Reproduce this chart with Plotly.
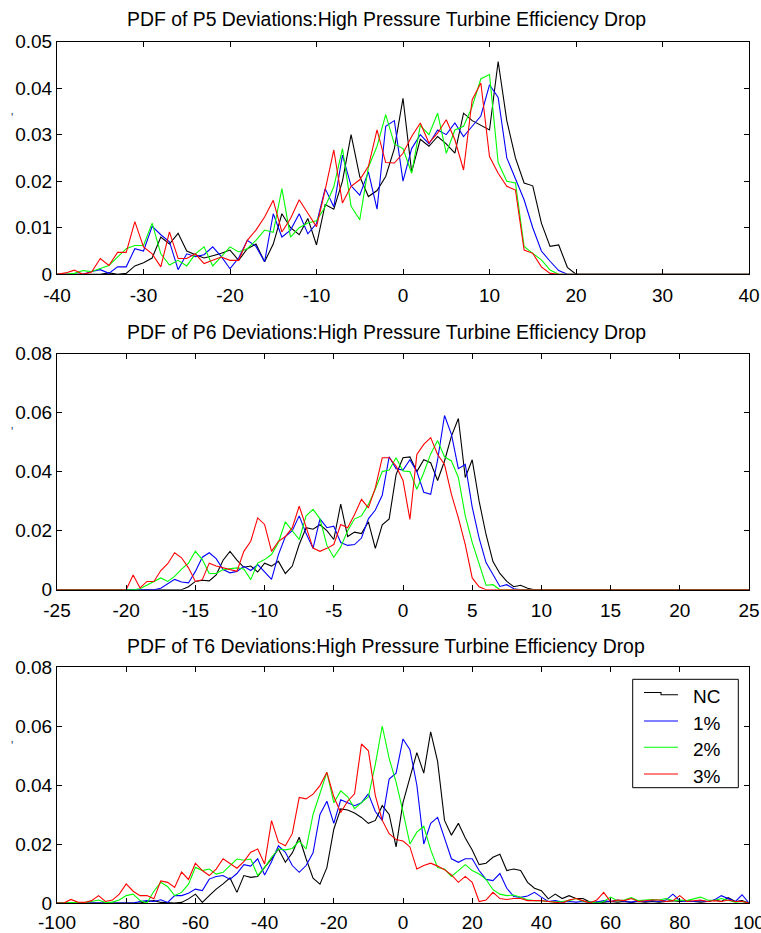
import plotly.graph_objects as go

# ---------------- data ----------------
# P5 deviation bins (1-unit bins)
P5_X = list(range(-40, 41))
P5_NC = [0, 0, 0, 0, 0, 0,
         0.0003, 0, 0.0002, 0.0018, 0.0025, 0.0035, 0.0080, 0.0065, 0.0088, 0.0050,
         0.0042, 0.0035, 0.0040, 0.0045, 0.0052, 0.0030, 0.0055, 0.0065, 0.0027, 0.0065,
         0.0130, 0.0100, 0.0085, 0.0120, 0.0063, 0.0150, 0.0140, 0.0200, 0.0300, 0.0210,
         0.0167, 0.0180, 0.0210, 0.0270, 0.0378, 0.0220, 0.0290, 0.0275, 0.0296, 0.0280,
         0.0260, 0.0346, 0.0330, 0.0320, 0.0310, 0.0457, 0.0330, 0.0250, 0.0196, 0.0190,
         0.0110, 0.0060, 0.0063, 0.0015, 0,
         0, 0, 0, 0, 0, 0, 0, 0, 0, 0, 0, 0, 0, 0, 0, 0, 0, 0, 0, 0]
P5_1 = [0, 0, 0, 0, 0.0006, 0.0010,
        0.0002, 0.0016, 0.0016, 0.0055, 0.0050, 0.0103, 0.0085, 0.0070, 0.0010, 0.0044,
        0.0038, 0.0042, 0.0059, 0.0038, 0.0012, 0.0035, 0.0073, 0.0060, 0.0027, 0.0130,
        0.0080, 0.0095, 0.0130, 0.0087, 0.0109, 0.0184, 0.0145, 0.0256, 0.0190, 0.0170,
        0.0220, 0.0140, 0.0318, 0.0330, 0.0200, 0.0270, 0.0300, 0.0280, 0.0310, 0.0300,
        0.0325, 0.0296, 0.0318, 0.0340, 0.0407, 0.0380, 0.0250, 0.0203, 0.0160, 0.0100,
        0.0050, 0.0028, 0.0008, 0, 0,
        0, 0, 0, 0, 0, 0, 0, 0, 0, 0, 0, 0, 0, 0, 0, 0, 0, 0, 0, 0]
P5_2 = [0, 0, 0.0002, 0.0008, 0.0006, 0.0012,
        0.0019, 0.0037, 0.0055, 0.0062, 0.0062, 0.0110, 0.0044, 0.0020, 0.0030, 0.0018,
        0.0044, 0.0059, 0.0018, 0.0038, 0.0059, 0.0048, 0.0055, 0.0073, 0.0095, 0.0090,
        0.0184, 0.0080, 0.0100, 0.0110, 0.0115, 0.0145, 0.0188, 0.0270, 0.0146, 0.0117,
        0.0230, 0.0275, 0.0343, 0.0280, 0.0270, 0.0217, 0.0320, 0.0300, 0.0346, 0.0260,
        0.0310, 0.0318, 0.0360, 0.0420, 0.0429, 0.0240, 0.0200, 0.0196, 0.0060, 0.0045,
        0.0031, 0.0009, 0, 0, 0,
        0, 0, 0, 0, 0, 0, 0, 0, 0, 0, 0, 0, 0, 0, 0, 0, 0, 0, 0, 0]
P5_3 = [0, 0.0003, 0.0009, 0, 0.0005, 0.0034,
        0.0019, 0.0047, 0.0047, 0.0113, 0.0059, 0.0044, 0.0016, 0.0091, 0.0034, 0.0034,
        0.0044, 0.0023, 0.0030, 0.0037, 0.0030, 0.0030, 0.0073, 0.0095, 0.0123, 0.0159,
        0.0091, 0.0120, 0.0160, 0.0131, 0.0102, 0.0181, 0.0267, 0.0153, 0.0189, 0.0203,
        0.0232, 0.0310, 0.0240, 0.0239, 0.0260, 0.0296, 0.0325, 0.0282, 0.0303, 0.0332,
        0.0289, 0.0224, 0.0375, 0.0411, 0.0253, 0.0217, 0.0189, 0.0181, 0.0052, 0.0045,
        0.0016, 0.0002, 0, 0, 0,
        0, 0, 0, 0, 0, 0, 0, 0, 0, 0, 0, 0, 0, 0, 0, 0, 0, 0, 0, 0]

# P6 deviation bins (0.5-unit bins)
P6_X = [i * 0.5 for i in range(-50, 51)]
P6_NC = [0, 0, 0, 0, 0, 0, 0, 0, 0, 0, 0, 0, 0, 0, 0, 0, 0, 0, 0,
         0.0010, 0.0028, 0.0032, 0.0030, 0.0050, 0.0100, 0.0130, 0.0100, 0.0076, 0.0080,
         0.0060, 0.0090, 0.0080, 0.0096, 0.0055, 0.0080, 0.0153, 0.0210, 0.0205, 0.0220,
         0.0200, 0.0170, 0.0290, 0.0180, 0.0195, 0.0190, 0.0230, 0.0140, 0.0220, 0.0240,
         0.0390, 0.0447, 0.0450, 0.0400, 0.0440, 0.0430, 0.0370, 0.0436, 0.0520, 0.0580,
         0.0380, 0.0440, 0.0300, 0.0187, 0.0095, 0.0055, 0.0028, 0.0010, 0.0015, 0.0005,
         0, 0, 0, 0, 0, 0, 0, 0, 0, 0, 0, 0, 0, 0, 0, 0,
         0, 0, 0, 0, 0, 0, 0, 0, 0, 0, 0, 0, 0, 0, 0, 0]
P6_1 = [0, 0, 0, 0, 0, 0, 0, 0, 0, 0, 0, 0, 0, 0, 0,
        0.0005, 0.0020, 0.0035, 0.0026, 0.0023, 0.0062, 0.0110, 0.0125, 0.0105, 0.0068,
        0.0057, 0.0062, 0.0079, 0.0065, 0.0085, 0.0060, 0.0035, 0.0119, 0.0180, 0.0200,
        0.0250, 0.0190, 0.0140, 0.0240, 0.0210, 0.0215, 0.0160, 0.0150, 0.0153, 0.0175,
        0.0240, 0.0270, 0.0320, 0.0450, 0.0410, 0.0405, 0.0440, 0.0400, 0.0330, 0.0323,
        0.0440, 0.0590, 0.0526, 0.0410, 0.0424, 0.0280, 0.0175, 0.0092, 0.0050, 0.0011,
        0.0017, 0.0003,
        0, 0, 0, 0, 0, 0, 0, 0, 0, 0, 0, 0, 0, 0, 0, 0, 0,
        0, 0, 0, 0, 0, 0, 0, 0, 0, 0, 0, 0, 0, 0, 0, 0, 0]
P6_2 = [0, 0, 0, 0, 0, 0, 0, 0, 0, 0, 0, 0,
        0.0003, 0.0015, 0.0028, 0.0040, 0.0028, 0.0045, 0.0070, 0.0090, 0.0130, 0.0102,
        0.0055, 0.0055, 0.0068, 0.0072, 0.0074, 0.0070, 0.0034, 0.0090, 0.0102, 0.0119,
        0.0160, 0.0230, 0.0200, 0.0170, 0.0250, 0.0272, 0.0240, 0.0150, 0.0110, 0.0145,
        0.0200, 0.0240, 0.0250, 0.0289, 0.0340, 0.0400, 0.0405, 0.0447, 0.0402, 0.0400,
        0.0340, 0.0396, 0.0460, 0.0505, 0.0450, 0.0436, 0.0380, 0.0250, 0.0160, 0.0085,
        0.0015, 0.0017, 0,
        0, 0, 0, 0, 0, 0, 0, 0, 0, 0, 0, 0, 0, 0, 0, 0, 0, 0,
        0, 0, 0, 0, 0, 0, 0, 0, 0, 0, 0, 0, 0, 0, 0, 0, 0, 0]
P6_3 = [0, 0, 0, 0, 0, 0, 0, 0, 0, 0, 0,
        0.0050, 0.0006, 0.0028, 0.0028, 0.0065, 0.0088, 0.0125, 0.0108, 0.0074, 0.0028,
        0.0034, 0.0090, 0.0080, 0.0074, 0.0068, 0.0062, 0.0130, 0.0164, 0.0243, 0.0221,
        0.0130, 0.0164, 0.0180, 0.0210, 0.0283, 0.0210, 0.0141, 0.0130, 0.0140, 0.0153,
        0.0221, 0.0210, 0.0255, 0.0306, 0.0277, 0.0345, 0.0447, 0.0447, 0.0419, 0.0370,
        0.0238, 0.0458, 0.0492, 0.0515, 0.0458, 0.0424, 0.0323, 0.0243, 0.0153, 0.0040,
        0.0010, 0,
        0, 0, 0, 0, 0, 0, 0, 0, 0, 0, 0, 0, 0, 0, 0, 0, 0, 0, 0,
        0, 0, 0, 0, 0, 0, 0, 0, 0, 0, 0, 0, 0, 0, 0, 0, 0, 0, 0]

# T6 deviation bins (2-unit bins)
T6_X = list(range(-100, 101, 2))
T6_NC = [0, 0, 0, 0, 0, 0, 0, 0, 0, 0,
         0, 0, 0, 0.0005, 0.0008, 0.0002, 0, 0, 0.0002, 0.0014,
         0.0030, 0.0002, 0.0025, 0.0047, 0.0065, 0.0085, 0.0036, 0.0093, 0.0087, 0.0090,
         0.0121, 0.0149, 0.0183, 0.0138, 0.0170, 0.0223, 0.0150, 0.0084, 0.0064, 0.0120,
         0.0250, 0.0319, 0.0315, 0.0305, 0.0290, 0.0270, 0.0280, 0.0330, 0.0300, 0.0190,
         0.0340, 0.0430, 0.0510, 0.0440, 0.0580, 0.0480, 0.0280, 0.0230, 0.0270, 0.0220,
         0.0180, 0.0130, 0.0135, 0.0155, 0.0165, 0.0110, 0.0115, 0.0110, 0.0070, 0.0050,
         0.0042, 0.0014, 0.0030, 0.0015, 0.0025, 0.0015, 0.0015, 0.0003, 0.0002, 0.0003,
         0.0005, 0.0003, 0.0005, 0.0002, 0.0005, 0.0003, 0.0005, 0.0003, 0.0005, 0.0008,
         0.0005, 0.0008, 0.0005, 0.0003, 0.0005, 0.0010, 0.0005, 0.0018, 0.0005, 0.0008,
         0]
T6_1 = [0, 0, 0, 0, 0, 0, 0, 0, 0, 0,
        0.0002, 0, 0.0005, 0.0008, 0.0005, 0.0011, 0.0002, 0.0025, 0.0025, 0.0033,
        0.0047, 0.0042, 0.0081, 0.0090, 0.0093, 0.0080, 0.0100, 0.0130, 0.0125, 0.0150,
        0.0095, 0.0140, 0.0194, 0.0172, 0.0127, 0.0104, 0.0127, 0.0170, 0.0300, 0.0345,
        0.0270, 0.0350, 0.0340, 0.0330, 0.0340, 0.0370, 0.0310, 0.0280, 0.0420, 0.0440,
        0.0556, 0.0520, 0.0400, 0.0200, 0.0270, 0.0290, 0.0220, 0.0150, 0.0138, 0.0150,
        0.0150, 0.0110, 0.0080, 0.0076, 0.0100, 0.0050, 0.0022, 0.0019, 0.0024, 0.0036,
        0.0020, 0.0005, 0.0008, 0.0003, 0.0005, 0.0003, 0.0005, 0.0002, 0.0003, 0.0008,
        0.0005, 0.0010, 0.0005, 0.0003, 0.0008, 0.0005, 0.0008, 0.0005, 0.0010, 0.0030,
        0.0008, 0.0005, 0.0005, 0.0008, 0.0005, 0.0010, 0.0025, 0.0015, 0.0005, 0.0028,
        0]
T6_2 = [0, 0, 0, 0, 0.0002, 0.0005, 0.0010, 0.0002, 0.0003, 0.0010,
        0.0025, 0.0030, 0.0008, 0, 0.0040, 0.0070, 0.0055, 0.0025, 0.0036, 0.0064,
        0.0121, 0.0110, 0.0115, 0.0098, 0.0104, 0.0127, 0.0149, 0.0145, 0.0149, 0.0093,
        0.0120, 0.0155, 0.0183, 0.0180, 0.0185, 0.0210, 0.0183, 0.0300, 0.0375, 0.0443,
        0.0340, 0.0380, 0.0360, 0.0320, 0.0340, 0.0360, 0.0470, 0.0600, 0.0490, 0.0410,
        0.0310, 0.0200, 0.0240, 0.0260, 0.0180, 0.0120, 0.0115, 0.0090, 0.0110, 0.0130,
        0.0110, 0.0098, 0.0080, 0.0045, 0.0030, 0.0025, 0.0027, 0.0018, 0.0011, 0.0008,
        0.0008, 0.0005, 0.0003, 0.0005, 0.0008, 0.0015, 0.0005, 0.0003, 0, 0.0005,
        0.0020, 0.0008, 0.0010, 0.0018, 0.0008, 0.0010, 0.0012, 0.0010, 0.0015, 0.0008,
        0.0010, 0.0008, 0.0015, 0.0020, 0.0010, 0.0008, 0.0015, 0.0010, 0.0003, 0.0005,
        0]
T6_3 = [0, 0, 0.0012, 0.0003, 0.0002, 0.0008, 0.0025, 0.0005, 0.0010, 0.0030,
        0.0065, 0.0040, 0.0025, 0.0025, 0.0014, 0.0075, 0.0070, 0.0053, 0.0105, 0.0080,
        0.0135, 0.0110, 0.0093, 0.0115, 0.0150, 0.0135, 0.0118, 0.0140, 0.0172, 0.0183,
        0.0132, 0.0279, 0.0206, 0.0194, 0.0235, 0.0358, 0.0353, 0.0369, 0.0398, 0.0443,
        0.0360, 0.0307, 0.0345, 0.0370, 0.0539, 0.0516, 0.0364, 0.0280, 0.0235, 0.0215,
        0.0210, 0.0190, 0.0115, 0.0127, 0.0135, 0.0125, 0.0113, 0.0095, 0.0070, 0.0090,
        0.0070, 0.0005, 0.0010, 0.0036, 0.0015, 0.0012, 0.0015, 0.0015, 0.0008, 0.0008,
        0.0008, 0.0005, 0.0002, 0, 0.0010, 0.0015, 0.0008, 0, 0.0010, 0.0036,
        0.0005, 0.0010, 0.0008, 0.0015, 0.0005, 0.0008, 0.0010, 0.0010, 0.0005, 0.0008,
        0.0025, 0.0005, 0.0008, 0.0010, 0.0005, 0.0008, 0.0005, 0.0010, 0.0005, 0.0005,
        0]

SERIES_NAMES = ["NC", "1%", "2%", "3%"]
SERIES_COLORS = ["#000000", "#0000ff", "#00ff00", "#ff0000"]

TITLES = ["PDF of P5 Deviations:High Pressure Turbine Efficiency Drop",
          "PDF of P6 Deviations:High Pressure Turbine Efficiency Drop",
          "PDF of T6 Deviations:High Pressure Turbine Efficiency Drop"]

P5_XTICKS = [-40, -30, -20, -10, 0, 10, 20, 30, 40]
P6_XTICKS = [-25, -20, -15, -10, -5, 0, 5, 10, 15, 20, 25]
T6_XTICKS = [-100, -80, -60, -40, -20, 0, 20, 40, 60, 80, 100]
P5_YTICKS = [0, 0.01, 0.02, 0.03, 0.04, 0.05]
P6_YTICKS = [0, 0.02, 0.04, 0.06, 0.08]
T6_YTICKS = [0, 0.02, 0.04, 0.06, 0.08]

panels = [
    (P5_X, [P5_NC, P5_1, P5_2, P5_3], P5_XTICKS, P5_YTICKS),
    (P6_X, [P6_NC, P6_1, P6_2, P6_3], P6_XTICKS, P6_YTICKS),
    (T6_X, [T6_NC, T6_1, T6_2, T6_3], T6_XTICKS, T6_YTICKS),
]

# ---------------- layout geometry (pixels) ----------------
W, H = 761, 933
X_LEFT, X_RIGHT = 57, 749
PANEL_ROWS = [(41.5, 274.3), (353.5, 589.7), (667.0, 903.0)]
XLABEL_STANDOFF = [4, 3, 2]
TITLE_POS = [(386, 19), (386, 332), (386, 646)]
YLABEL_MARK_Y = [118, 432, 746]

FONT = "Liberation Sans"


def px(x):
    return x / W


def py(y):
    return 1 - y / H


fig = go.Figure()

for i, (xs, ys_list, xticks, yticks) in enumerate(panels):
    suffix = "" if i == 0 else str(i + 1)
    for name, color, ys in zip(SERIES_NAMES, SERIES_COLORS, ys_list):
        assert len(ys) == len(xs)
        fig.add_trace(go.Scatter(
            x=xs, y=ys, mode="lines", name=name,
            line=dict(color=color, width=1.1),
            xaxis="x" + suffix, yaxis="y" + suffix,
            showlegend=False, hoverinfo="skip",
        ))

    top, bottom = PANEL_ROWS[i]
    axis_common = dict(
        showline=True, linecolor="black", linewidth=1, mirror="ticks",
        ticks="inside", ticklen=5, tickcolor="black", tickwidth=1,
        showgrid=False, zeroline=False, automargin=False,
        tickfont=dict(family=FONT, size=19, color="black"),
    )
    fig.layout["xaxis" + suffix] = dict(
        axis_common,
        domain=[px(X_LEFT), px(X_RIGHT)],
        range=[xticks[0], xticks[-1]],
        tickmode="array", tickvals=xticks,
        ticktext=[str(t) for t in xticks],
        ticklabelstandoff=XLABEL_STANDOFF[i], ticklabeloverflow="allow",
        anchor="y" + suffix,
    )
    fig.layout["yaxis" + suffix] = dict(
        axis_common,
        domain=[py(bottom), py(top)],
        range=[yticks[0], yticks[-1]],
        tickmode="array", tickvals=yticks,
        ticktext=["0" if t == 0 else f"{t:.2f}" for t in yticks],
        ticklabeloverflow="allow",
        anchor="x" + suffix,
    )

annotations = []
for (tx, ty), text in zip(TITLE_POS, TITLES):
    annotations.append(dict(
        text=text, x=px(tx), y=py(ty), xref="paper", yref="paper",
        xanchor="center", yanchor="middle", showarrow=False,
        font=dict(family=FONT, size=19.4, color="black"),
    ))

# faint y-label marks at the far left of each panel
for my in YLABEL_MARK_Y:
    annotations.append(dict(
        text="'", x=px(12), y=py(my), xref="paper", yref="paper",
        xanchor="center", yanchor="middle", showarrow=False,
        font=dict(family=FONT, size=12, color="#2a3a70"),
    ))

# Legend box drawn in the bottom panel (paper coordinates)
LEG_BOX = (632.7, 679.3, 738.3, 787.7)
LEG_LINE_X = (644, 678)
LEG_LINE_Y = [694, 721, 747.3, 774]
LEG_TEXT_X = 691
LEG_TEXT_Y = [696, 723, 749.3, 776]

shapes = [dict(
    type="rect", xref="paper", yref="paper",
    x0=px(LEG_BOX[0]), x1=px(LEG_BOX[2]), y0=py(LEG_BOX[3]), y1=py(LEG_BOX[1]),
    line=dict(color="black", width=1), fillcolor="white", layer="above",
)]
for k, (name, color) in enumerate(zip(SERIES_NAMES, SERIES_COLORS)):
    ly = LEG_LINE_Y[k]
    if k == 0:
        mid = (LEG_LINE_X[0] + LEG_LINE_X[1]) / 2
        path = (f"M {px(LEG_LINE_X[0])},{py(ly - 1.5)} L {px(mid)},{py(ly - 1.5)} "
                f"L {px(mid)},{py(ly + 0.8)} L {px(LEG_LINE_X[1])},{py(ly + 0.8)}")
        shapes.append(dict(type="path", xref="paper", yref="paper", path=path,
                           line=dict(color=color, width=1.1), layer="above"))
    else:
        shapes.append(dict(type="line", xref="paper", yref="paper",
                           x0=px(LEG_LINE_X[0]), x1=px(LEG_LINE_X[1]),
                           y0=py(ly), y1=py(ly),
                           line=dict(color=color, width=1.1), layer="above"))
    annotations.append(dict(
        text=name, x=px(LEG_TEXT_X), y=py(LEG_TEXT_Y[k]), xref="paper", yref="paper",
        xanchor="left", yanchor="middle", showarrow=False,
        font=dict(family=FONT, size=19, color="black"),
    ))

fig.update_layout(
    template="none",
    width=W, height=H,
    margin=dict(l=0, r=0, t=0, b=0, pad=0, autoexpand=False),
    paper_bgcolor="white", plot_bgcolor="white",
    annotations=annotations,
    shapes=shapes,
    showlegend=False,
)

fig.write_html("out.html")
